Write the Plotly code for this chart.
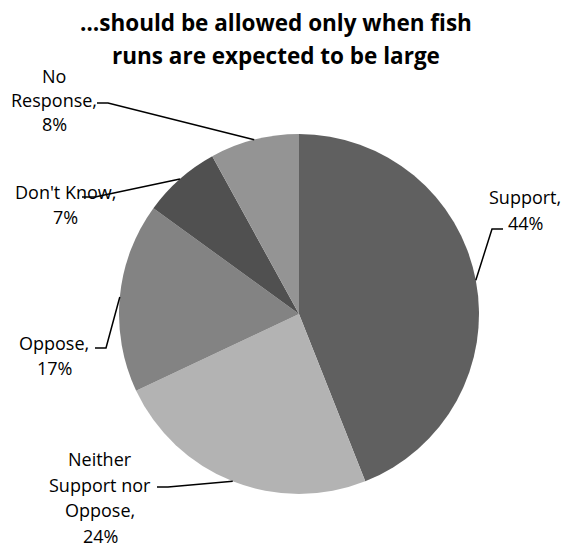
import math
import plotly.graph_objects as go

# ---- data ----
categories = ["Support", "Neither Support nor Oppose", "Oppose", "Don't Know", "No Response"]
values = [44, 24, 17, 7, 8]
label_lines = [
    ["Support,", "44%"],
    ["Neither", "Support nor", "Oppose,", "24%"],
    ["Oppose,", "17%"],
    ["Don't Know,", "7%"],
    ["No", "Response,", "8%"],
]
colors = ["#606060", "#b3b3b3", "#838383", "#505050", "#949494"]

title_lines = ["…should be allowed only when fish", "runs are expected to be large"]

# ---- layout constants (pixels) ----
W, H = 568, 548
CX, CY, R = 299, 314, 180

# label placement: (center x, first line y, line spacing)
label_pos = [
    (525, 197, 26),
    (100, 459, 25.7),
    (54, 343, 25),
    (65, 192, 25),
    (54, 76, 24),
]
# leader line label-side points: (start x, start y, knee x)
leader_start = [
    (503, 229, 492),
    (157, 487, 168),
    (95, 348, 106),
    (82, 197, 95),
    (97, 103, 108),
]

def px(x):
    return x / W

def py(y):
    return 1 - y / H

fig = go.Figure(go.Pie(
    labels=categories,
    values=values,
    sort=False,
    direction="clockwise",
    rotation=0,
    textinfo="none",
    marker=dict(colors=colors, line=dict(width=0)),
    domain=dict(x=[px(CX - R), px(CX + R)], y=[py(CY + R), py(CY - R)]),
    showlegend=False,
    hoverinfo="label+percent",
))

annotations = []
shapes = []
FONT = "Open Sans"

for i, tl in enumerate(title_lines):
    annotations.append(dict(
        text=f"<b>{tl}</b>", x=px(276), y=py(22 + 33 * i), xref="paper", yref="paper",
        xanchor="center", yanchor="middle", showarrow=False,
        font=dict(family=FONT, size=22.5, color="#000000"),
    ))

total = sum(values)
cum = 0
for i, v in enumerate(values):
    mid = (cum + v / 2) / total * 2 * math.pi
    cum += v
    ex = CX + R * math.sin(mid)
    ey = CY - R * math.cos(mid)
    sx, sy, kx = leader_start[i]
    shapes.append(dict(type="path", xref="paper", yref="paper",
                       path=f"M {px(sx)} {py(sy)} L {px(kx)} {py(sy)} L {px(ex)} {py(ey)}",
                       line=dict(color="#000000", width=1.5)))
    lx, ly, sp = label_pos[i]
    for j, line in enumerate(label_lines[i]):
        annotations.append(dict(
            text=line, x=px(lx), y=py(ly + sp * j), xref="paper", yref="paper",
            xanchor="center", yanchor="middle", showarrow=False, borderpad=0,
            font=dict(family=FONT, size=18, color="#000000"),
        ))

fig.update_layout(
    width=W, height=H,
    margin=dict(l=0, r=0, t=0, b=0),
    paper_bgcolor="#ffffff", plot_bgcolor="#ffffff",
    annotations=annotations, shapes=shapes,
)

fig.write_html("out.html", config={"displayModeBar": False},
               post_script="document.body.style.margin='0';document.body.style.overflow='hidden';")
